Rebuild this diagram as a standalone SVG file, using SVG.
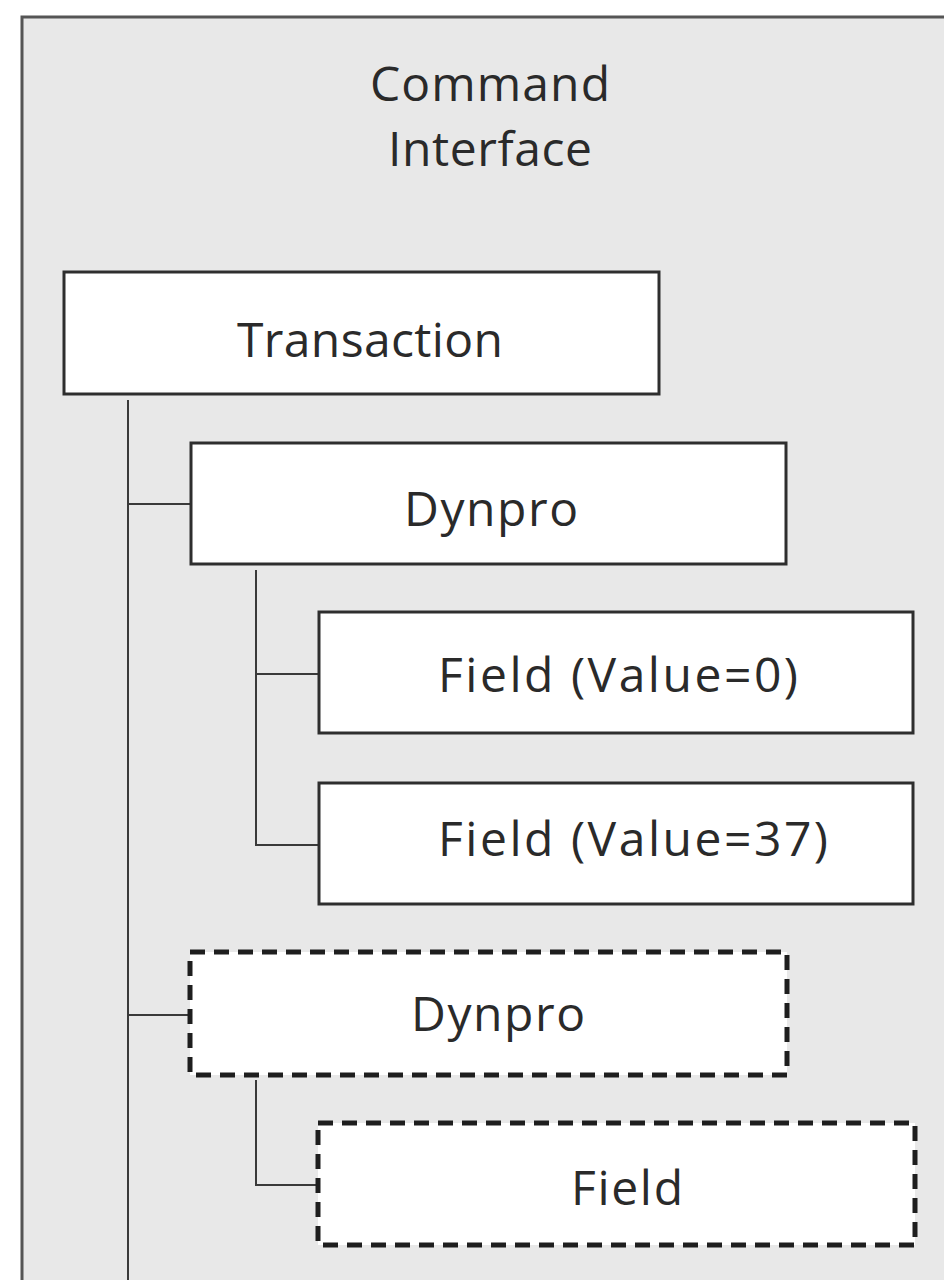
<svg xmlns="http://www.w3.org/2000/svg" width="944" height="1280" viewBox="0 0 944 1280">
  <style>
    .lbl { font-family: "Open Sans", "DejaVu Sans", sans-serif; font-size: 48px; fill: #2a2a2a; text-anchor: middle; }
    .box { fill: #ffffff; stroke: #2e2e2e; stroke-width: 3; }
    .dash { fill: #ffffff; stroke: #1e1e1e; stroke-width: 5; stroke-dasharray: 15 9; }
    .wire { fill: none; stroke: #3a3a3a; stroke-width: 2; }
  </style>
  <rect x="0" y="0" width="944" height="1280" fill="#ffffff"/>

  <!-- container -->
  <g id="command-interface">
    <rect x="22" y="17" width="940" height="1280" fill="#e8e8e8" stroke="#555555" stroke-width="3"/>
    <text class="lbl" x="490" y="101" textLength="240" lengthAdjust="spacing">Command</text>
    <text class="lbl" x="490" y="166" textLength="204" lengthAdjust="spacing">Interface</text>
  </g>

  <!-- tree connectors -->
  <g id="connectors">
    <path class="wire" d="M128 400 V1280"/>
    <path class="wire" d="M128 504 H191"/>
    <path class="wire" d="M128 1015 H190"/>
    <path class="wire" d="M256 570 V845 H319"/>
    <path class="wire" d="M256 674 H319"/>
    <path class="wire" d="M256 1080 V1185 H318"/>
  </g>

  <g id="transaction">
    <rect class="box" x="64" y="272" width="595" height="122"/>
    <text class="lbl" x="370" y="357" textLength="266" lengthAdjust="spacing">Transaction</text>
  </g>

  <g id="dynpro-1">
    <rect class="box" x="191" y="443" width="595" height="121"/>
    <text class="lbl" x="491" y="526" textLength="174" lengthAdjust="spacing">Dynpro</text>
  </g>

  <g id="field-value-0">
    <rect class="box" x="319" y="612" width="594" height="121"/>
    <text class="lbl" x="618" y="692" textLength="360" lengthAdjust="spacing">Field (Value=0)</text>
  </g>

  <g id="field-value-37">
    <rect class="box" x="319" y="783" width="594" height="121"/>
    <text class="lbl" x="633" y="856" textLength="390" lengthAdjust="spacing">Field (Value=37)</text>
  </g>

  <g id="dynpro-2">
    <rect class="dash" x="190" y="952" width="597" height="123"/>
    <text class="lbl" x="498" y="1031" textLength="174" lengthAdjust="spacing">Dynpro</text>
  </g>

  <g id="field">
    <rect class="dash" x="318" y="1123" width="597" height="122"/>
    <text class="lbl" x="627" y="1205" textLength="112" lengthAdjust="spacing">Field</text>
  </g>
</svg>
